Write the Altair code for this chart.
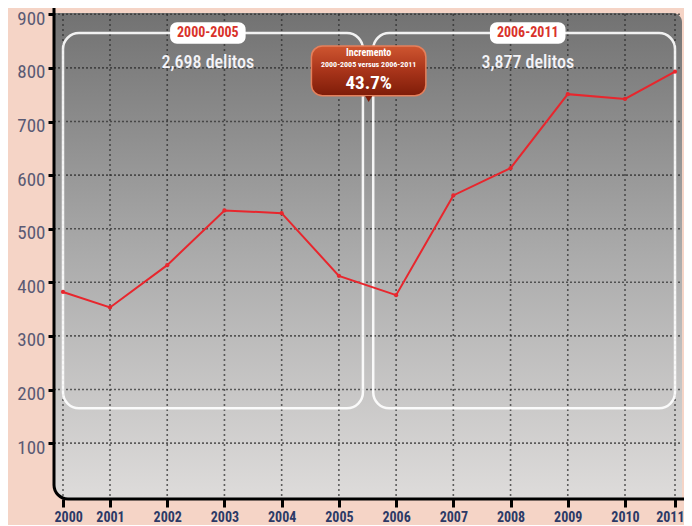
import altair as alt
import pandas as pd

# ---- data ----
years = [2000, 2001, 2002, 2003, 2004, 2005, 2006, 2007, 2008, 2009, 2010, 2011]
crimes = [382, 353, 432, 534, 529, 412, 376, 562, 613, 751, 742, 793]
y_ticks = [100, 200, 300, 400, 500, 600, 700, 800, 900]

period_labels = ["2000-2005", "2006-2011"]
period_totals = ["2,698 delitos", "3,877 delitos"]
period_start = [2000, 2005.6]
period_end = [2005.42, 2011]

badge_title = "Incremento"
badge_sub = "2000-2005 versus 2006-2011"
badge_value = "43.7%"

# ---- styling / layout ----
FONT = "Liberation Sans Narrow, Arial Narrow, Roboto Condensed, DejaVu Sans Condensed, Liberation Sans, sans-serif"
W, H = 628, 482
PEACH = "#F5D4C6"
RED = "#E8262D"

xscale = alt.Scale(domain=[2000, 2001, 2010, 2011], range=[9, 56, 571, 621], nice=False, zero=False)
yscale = alt.Scale(domain=[0, 900], range=[479.7, -2.7], nice=False, zero=False)

xaxis = alt.Axis(title=None, values=years, format="d", grid=False, domain=False,
                 tickColor="black", tickWidth=3, tickSize=8,
                 labelFont=FONT, labelFontSize=14, labelFontWeight="bold",
                 labelColor="#2c3a66", labelPadding=3,
                 labelFlush=True, labelFlushOffset=9)
yaxis = alt.Axis(title=None, values=y_ticks, grid=False, domain=False,
                 tickColor="black", tickWidth=3, tickSize=6,
                 labelFont=FONT, labelFontSize=19, labelColor="#5a5a74",
                 labelPadding=3, labelOffset=4)

df = pd.DataFrame({"year": years, "crimes": crimes})
df_years = pd.DataFrame({"year": years})
df_ticks = pd.DataFrame({"v": y_ticks})
df_periods = pd.DataFrame({"label": period_labels, "total": period_totals,
                           "start": period_start, "end": period_end})
one = pd.DataFrame({"k": [0]})

bg_gradient = alt.LinearGradient(
    gradient="linear",
    stops=[alt.GradientStop(color="#727272", offset=0),
           alt.GradientStop(color="#ababab", offset=0.5),
           alt.GradientStop(color="#dedcdb", offset=1)],
    x1=0, x2=0, y1=0, y2=1)

badge_gradient = alt.LinearGradient(
    gradient="linear",
    stops=[alt.GradientStop(color="#cf5630", offset=0),
           alt.GradientStop(color="#a8341a", offset=0.5),
           alt.GradientStop(color="#7e1c08", offset=1)],
    x1=0, x2=0, y1=0, y2=1)

bg = alt.Chart(one).mark_rect(
    fill=bg_gradient, cornerRadiusTopRight=9, cornerRadiusBottomLeft=14
).encode(x=alt.value(0), x2=alt.value(W), y=alt.value(-4), y2=alt.value(H))

vgrid = alt.Chart(df_years).mark_rule(
    color="#2a2a2a", strokeWidth=1.6, strokeDash=[2, 3], opacity=0.7
).encode(x=alt.X("year:Q", scale=xscale, axis=xaxis), y=alt.value(-3), y2=alt.value(H))

hgrid = alt.Chart(df_ticks).mark_rule(
    color="#2a2a2a", strokeWidth=1.6, strokeDash=[2, 2], opacity=0.7
).encode(y=alt.Y("v:Q", scale=yscale, axis=yaxis), x=alt.value(0), x2=alt.value(W))

boxes = alt.Chart(df_periods).mark_rect(
    fill="transparent", stroke="white", strokeWidth=2.5, strokeOpacity=0.9, cornerRadius=16
).encode(
    x=alt.X("start:Q", scale=xscale, axis=xaxis), x2="end:Q",
    y=alt.YDatum(865, scale=yscale, axis=yaxis), y2=alt.Y2Datum(165))

line = alt.Chart(df).mark_line(
    color=RED, strokeWidth=2,
    point=alt.OverlayMarkDef(filled=True, size=18, color=RED)
).encode(
    x=alt.X("year:Q", scale=xscale, axis=xaxis),
    y=alt.Y("crimes:Q", scale=yscale, axis=yaxis))

period_base = alt.Chart(df_periods).transform_calculate(
    mid="(datum.start + datum.end) / 2"
).transform_calculate(
    p0="datum.mid - 0.66", p1="datum.mid + 0.66")

pills = period_base.mark_rect(fill="white", cornerRadius=7).encode(
    x=alt.X("p0:Q", scale=xscale, axis=xaxis), x2="p1:Q",
    y=alt.YDatum(885, scale=yscale, axis=yaxis), y2=alt.Y2Datum(845))

pill_text = period_base.mark_text(
    color="#D9322A", font=FONT, fontSize=14, fontWeight="bold"
).encode(x=alt.X("mid:Q", scale=xscale, axis=xaxis),
         y=alt.YDatum(865, scale=yscale, axis=yaxis), text="label:N")

totals = period_base.mark_text(
    color="#f4f4f8", font=FONT, fontSize=18, fontWeight=500
).encode(x=alt.X("mid:Q", scale=xscale, axis=xaxis),
         y=alt.YDatum(810, scale=yscale, axis=yaxis), text="total:N")

BX = 2005.52
badge = alt.Chart(one).mark_rect(
    fill=badge_gradient, stroke="#e4805c", strokeWidth=1.5, cornerRadius=11
).encode(x=alt.XDatum(BX - 1.0, scale=xscale, axis=xaxis), x2=alt.X2Datum(BX + 1.0),
         y=alt.YDatum(841, scale=yscale, axis=yaxis), y2=alt.Y2Datum(748))

pointer = alt.Chart(one).mark_point(
    shape="triangle-down", filled=True, size=50, color="#7e1c08", opacity=1
).encode(x=alt.XDatum(BX, scale=xscale, axis=xaxis),
         y=alt.YDatum(742, scale=yscale, axis=yaxis))

b1 = alt.Chart(one).mark_text(color="white", font=FONT, fontSize=10, fontWeight="bold").encode(
    x=alt.XDatum(BX, scale=xscale, axis=xaxis), y=alt.YDatum(827, scale=yscale, axis=yaxis),
    text=alt.value(badge_title))
b2 = alt.Chart(one).mark_text(color="white", font=FONT, fontSize=8, fontWeight="bold").encode(
    x=alt.XDatum(BX, scale=xscale, axis=xaxis), y=alt.YDatum(806, scale=yscale, axis=yaxis),
    text=alt.value(badge_sub))
b3 = alt.Chart(one).mark_text(color="white", font=FONT, fontSize=19, fontWeight="bold").encode(
    x=alt.XDatum(BX, scale=xscale, axis=xaxis), y=alt.YDatum(772, scale=yscale, axis=yaxis),
    text=alt.value(badge_value))

frame = alt.Chart(one).mark_rect(
    fill="transparent", stroke="black", strokeWidth=3, cornerRadiusBottomLeft=14
).encode(x=alt.value(0), x2=alt.value(W + 60), y=alt.value(-60), y2=alt.value(H))

chart = alt.layer(
    bg, vgrid, hgrid, boxes, line, pills, pill_text, totals,
    badge, pointer, b1, b2, b3, frame
).properties(
    width=W, height=H, background=PEACH,
    autosize=alt.AutoSizeParams(type="none"),
    padding={"left": 46, "top": 9, "right": 2, "bottom": 26}
).configure_view(strokeWidth=0)

chart.save("out.html", embed_options={"renderer": "svg", "actions": False})
